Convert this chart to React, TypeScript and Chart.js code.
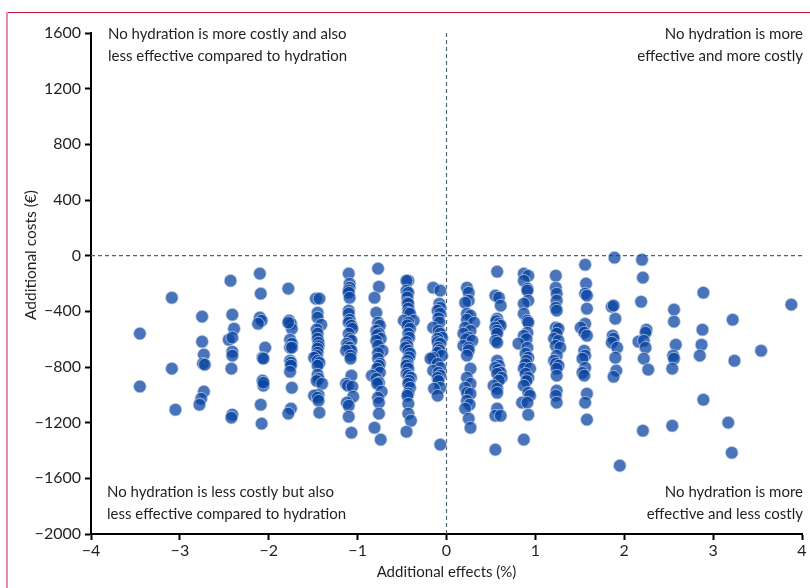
import React, { useEffect, useRef } from "react";
import { Chart, registerables } from "chart.js";

Chart.register(...registerables);

// Probabilistic sensitivity runs: [additional effect (%), additional cost (€)]
const runsA: number[][] = [[-3.45, -560], [-3.45, -940]];
const runsB: number[][] = [[-3.09, -302], [-3.09, -812], [-3.05, -1107]];
const runsC: number[][] = [[-2.75, -438], [-2.75, -618], [-2.73, -711], [-2.74, -776], [-2.72, -783], [-2.73, -977], [-2.76, -1028], [-2.78, -1071]];
const runsD: number[][] = [[-2.43, -180], [-2.41, -424], [-2.39, -525], [-2.45, -604], [-2.41, -589], [-2.41, -690], [-2.41, -718], [-2.42, -812], [-2.41, -1143], [-2.42, -1164]];
const runsE: number[][] = [[-2.10, -129], [-2.09, -273], [-2.10, -445], [-2.08, -467], [-2.12, -489], [-2.04, -661], [-2.07, -733], [-2.06, -740], [-2.07, -898], [-2.06, -934], [-2.06, -913], [-2.09, -1071], [-2.08, -1207]];
const runsF: number[][] = [[-1.78, -237], [-1.77, -467], [-1.75, -489], [-1.74, -525], [-1.78, -481], [-1.76, -604], [-1.74, -632], [-1.76, -661], [-1.74, -661], [-1.76, -755], [-1.75, -769], [-1.75, -790], [-1.76, -834], [-1.74, -949], [-1.75, -1099], [-1.78, -1135]];
const runsG: number[][] = [[-1.47, -309], [-1.43, -309], [-1.45, -410], [-1.45, -445], [-1.41, -496], [-1.46, -530], [-1.45, -560], [-1.45, -596], [-1.44, -625], [-1.44, -650], [-1.45, -668], [-1.45, -697], [-1.46, -720], [-1.49, -733], [-1.45, -755], [-1.43, -770], [-1.45, -790], [-1.45, -855], [-1.44, -884], [-1.46, -900], [-1.40, -920], [-1.44, -1000], [-1.49, -1006], [-1.45, -1020], [-1.44, -1042], [-1.43, -1128]];
const runsH: number[][] = [[-1.10, -129], [-1.09, -201], [-1.09, -230], [-1.10, -250], [-1.10, -266], [-1.09, -302], [-1.10, -395], [-1.10, -417], [-1.09, -460], [-1.10, -481], [-1.07, -503], [-1.06, -525], [-1.10, -560], [-1.09, -596], [-1.07, -611], [-1.12, -632], [-1.11, -650], [-1.09, -661], [-1.07, -683], [-1.13, -683], [-1.08, -718], [-1.08, -740], [-1.07, -862], [-1.13, -920], [-1.11, -934], [-1.06, -941], [-1.05, -1013], [-1.12, -1056], [-1.10, -1078], [-1.10, -1157], [-1.07, -1272]];
const runsI: number[][] = [[-0.77, -93], [-0.76, -223], [-0.81, -302], [-0.79, -410], [-0.77, -481], [-0.75, -503], [-0.79, -539], [-0.76, -560], [-0.78, -570], [-0.74, -596], [-0.79, -611], [-0.77, -647], [-0.72, -683], [-0.77, -700], [-0.77, -740], [-0.75, -776], [-0.76, -790], [-0.78, -812], [-0.75, -840], [-0.84, -862], [-0.79, -884], [-0.76, -913], [-0.78, -920], [-0.73, -977], [-0.77, -1020], [-0.76, -1056], [-0.76, -1135], [-0.81, -1236], [-0.74, -1322]];
const runsJ: number[][] = [[-0.43, -180], [-0.45, -180], [-0.45, -251], [-0.43, -266], [-0.44, -300], [-0.44, -338], [-0.43, -345], [-0.43, -380], [-0.43, -410], [-0.41, -417], [-0.48, -467], [-0.37, -467], [-0.43, -481], [-0.44, -500], [-0.41, -525], [-0.43, -560], [-0.42, -589], [-0.45, -620], [-0.44, -647], [-0.46, -661], [-0.43, -683], [-0.41, -704], [-0.42, -730], [-0.44, -755], [-0.44, -780], [-0.45, -790], [-0.43, -812], [-0.45, -848], [-0.43, -862], [-0.40, -877], [-0.42, -898], [-0.43, -920], [-0.41, -949], [-0.43, -990], [-0.44, -1006], [-0.43, -1064], [-0.43, -1135], [-0.40, -1186], [-0.45, -1265]];
const runsK: number[][] = [[-0.15, -230], [-0.07, -251], [-0.08, -345], [-0.07, -374], [-0.10, -395], [-0.07, -417], [-0.09, -450], [-0.08, -480], [-0.15, -517], [-0.09, -539], [-0.07, -560], [-0.05, -589], [-0.10, -596], [-0.10, -620], [-0.07, -632], [-0.09, -661], [-0.08, -680], [-0.10, -697], [-0.05, -718], [-0.15, -733], [-0.18, -740], [-0.10, -776], [-0.07, -805], [-0.15, -826], [-0.09, -841], [-0.07, -862], [-0.10, -877], [-0.09, -900], [-0.07, -949], [-0.14, -956], [-0.10, -1006], [-0.07, -1358]];
const runsL: number[][] = [[0.23, -230], [0.25, -266], [0.25, -323], [0.21, -338], [0.23, -417], [0.27, -431], [0.23, -460], [0.31, -481], [0.21, -517], [0.27, -539], [0.19, -560], [0.25, -589], [0.22, -600], [0.29, -611], [0.19, -647], [0.25, -661], [0.25, -680], [0.23, -718], [0.27, -812], [0.23, -877], [0.27, -920], [0.21, -949], [0.23, -985], [0.27, -992], [0.23, -1042], [0.26, -1070], [0.21, -1099], [0.25, -1171], [0.27, -1236]];
const runsM: number[][] = [[0.57, -115], [0.55, -287], [0.59, -302], [0.61, -359], [0.57, -453], [0.56, -470], [0.59, -489], [0.61, -503], [0.55, -517], [0.57, -539], [0.57, -560], [0.55, -611], [0.57, -625], [0.57, -755], [0.59, -790], [0.55, -805], [0.58, -820], [0.61, -841], [0.57, -848], [0.62, -877], [0.59, -898], [0.53, -934], [0.57, -956], [0.57, -985], [0.57, -1099], [0.55, -1150], [0.61, -1150], [0.55, -1394]];
const runsN: number[][] = [[0.87, -129], [0.92, -144], [0.87, -180], [0.91, -237], [0.91, -251], [0.92, -323], [0.87, -345], [0.87, -417], [0.91, -467], [0.92, -481], [0.91, -553], [0.87, -575], [0.90, -600], [0.81, -632], [0.91, -661], [0.89, -704], [0.92, -733], [0.90, -755], [0.89, -780], [0.87, -812], [0.94, -812], [0.89, -848], [0.92, -877], [0.90, -900], [0.87, -934], [0.92, -985], [0.94, -1006], [0.85, -1056], [0.91, -1056], [0.92, -1143], [0.87, -1322]];
const runsO: number[][] = [[1.23, -144], [1.23, -230], [1.24, -273], [1.24, -323], [1.23, -374], [1.24, -395], [1.23, -517], [1.26, -525], [1.24, -560], [1.21, -596], [1.26, -611], [1.23, -647], [1.28, -661], [1.24, -718], [1.21, -755], [1.23, -776], [1.26, -790], [1.24, -812], [1.24, -862], [1.24, -970], [1.23, -1006], [1.24, -1056]];
const runsP: number[][] = [[1.56, -65], [1.57, -201], [1.56, -273], [1.58, -287], [1.58, -381], [1.56, -489], [1.51, -517], [1.55, -553], [1.58, -575], [1.55, -683], [1.56, -718], [1.53, -740], [1.56, -805], [1.53, -841], [1.55, -862], [1.58, -992], [1.56, -1056], [1.58, -1178]];
const runsQ: number[][] = [[1.89, -14], [1.86, -367], [1.88, -359], [1.90, -453], [1.87, -575], [1.88, -596], [1.86, -625], [1.92, -661], [1.90, -733], [1.91, -826], [1.88, -870], [1.95, -1509]];
const runsR: number[][] = [[2.20, -29], [2.21, -158], [2.19, -331], [2.25, -532], [2.24, -553], [2.16, -618], [2.22, -611], [2.24, -661], [2.22, -740], [2.27, -819], [2.21, -1258]];
const runsS: number[][] = [[2.56, -388], [2.56, -474], [2.58, -640], [2.55, -718], [2.56, -740], [2.54, -812], [2.54, -1222]];
const runsT: number[][] = [[2.89, -266], [2.88, -532], [2.87, -640], [2.85, -718], [2.89, -1035]];
const runsU: number[][] = [[3.22, -460], [3.24, -755], [3.17, -1200], [3.21, -1416]];
const runsV: number[][] = [[3.54, -683]];
const runsW: number[][] = [[3.88, -352]];

const xTicks = [-4, -3, -2, -1, 0, 1, 2, 3, 4];
const yTicks = [-2000, -1600, -1200, -800, -400, 0, 400, 800, 1200, 1600];

const quadrantTopLeft = ["No hydration is more costly and also", "less effective compared to hydration"];
const quadrantTopRight = ["No hydration is more", "effective and more costly"];
const quadrantBottomLeft = ["No hydration is less costly but also", "less effective compared to hydration"];
const quadrantBottomRight = ["No hydration is more", "effective and less costly"];
const xTitle = "Additional effects (%)";
const yTitle = "Additional costs (€)";

const FONT = "Lato, 'Open Sans', sans-serif";
const TEXT = "#231f20";

const fmt = (v: number) => (v < 0 ? "\u2212" + Math.abs(v) : String(v));

export default function App() {
  const ref = useRef<HTMLCanvasElement | null>(null);

  useEffect(() => {
    if (!ref.current) return;
    const all = [
      runsA, runsB, runsC, runsD, runsE, runsF, runsG, runsH, runsI, runsJ, runsK, runsL,
      runsM, runsN, runsO, runsP, runsQ, runsR, runsS, runsT, runsU, runsV, runsW,
    ].flat();
    const data = all.map(([x, y]) => ({ x, y }));

    const refLines = {
      id: "refLines",
      beforeDatasetsDraw(chart: any) {
        const { ctx, chartArea, scales } = chart;
        const x0 = scales.x.getPixelForValue(0);
        const y0 = scales.y.getPixelForValue(0);
        ctx.save();
        ctx.strokeStyle = "#4d6473";
        ctx.lineWidth = 1.2;
        ctx.setLineDash([4, 3]);
        ctx.beginPath();
        ctx.moveTo(chartArea.left, y0);
        ctx.lineTo(chartArea.right, y0);
        ctx.moveTo(x0, chartArea.top);
        ctx.lineTo(x0, chartArea.bottom);
        ctx.stroke();
        ctx.restore();
      },
    };

    const labels = {
      id: "labels",
      afterDraw(chart: any) {
        const { ctx, chartArea } = chart;
        ctx.save();
        ctx.fillStyle = TEXT;
        ctx.font = `15px ${FONT}`;
        ctx.textBaseline = "middle";
        const lh = 22;
        const L = chartArea.left + 17;
        const R = chartArea.right + 1;
        ctx.textAlign = "left";
        quadrantTopLeft.forEach((t, i) => ctx.fillText(t, L, 34 + i * lh));
        quadrantBottomLeft.forEach((t, i) => ctx.fillText(t, L - 1, 492 + i * lh));
        ctx.textAlign = "right";
        quadrantTopRight.forEach((t, i) => ctx.fillText(t, R, 34 + i * lh));
        quadrantBottomRight.forEach((t, i) => ctx.fillText(t, R, 492 + i * lh));
        // axis titles
        ctx.textAlign = "center";
        ctx.fillText(xTitle, (chartArea.left + chartArea.right) / 2, 572);
        ctx.font = `15.5px ${FONT}`;
        ctx.translate(31, 255);
        ctx.rotate(-Math.PI / 2);
        ctx.fillText(yTitle, 0, 0);
        ctx.restore();
      },
    };

    const chart = new Chart(ref.current, {
      type: "scatter",
      data: {
        datasets: [
          {
            data,
            pointRadius: 6.3,
            pointHoverRadius: 6.3,
            backgroundColor: "rgba(10,68,160,0.74)",
            borderColor: "rgba(190,205,230,0.75)",
            borderWidth: 1,
          },
        ],
      },
      options: {
        responsive: false,
        animation: false,
        devicePixelRatio: 1,
        events: [],
        layout: { padding: { left: 0, right: 8, top: 33, bottom: 0 } },
        plugins: { legend: { display: false }, tooltip: { enabled: false } },
        scales: {
          x: {
            type: "linear",
            min: -4,
            max: 4,
            afterFit: (s: any) => {
              s.height = 54;
            },
            afterBuildTicks: (s: any) => {
              s.ticks = xTicks.map((v) => ({ value: v }));
            },
            ticks: {
              color: TEXT,
              font: { family: FONT, size: 16 },
              padding: 1,
              maxRotation: 0,
              callback: (v: any) => fmt(Number(v)),
            },
            grid: {
              display: true,
              drawOnChartArea: false,
              drawTicks: true,
              tickLength: 6,
              tickWidth: 2,
              tickColor: "#000",
            },
            border: { display: true, color: "#000", width: 2 },
          },
          y: {
            type: "linear",
            min: -2000,
            max: 1600,
            afterFit: (s: any) => {
              s.width = 91;
            },
            afterBuildTicks: (s: any) => {
              s.ticks = yTicks.map((v) => ({ value: v }));
            },
            ticks: {
              color: TEXT,
              font: { family: FONT, size: 16 },
              padding: 4,
              callback: (v: any) => fmt(Number(v)),
            },
            grid: {
              display: true,
              drawOnChartArea: false,
              drawTicks: true,
              tickLength: 6,
              tickWidth: 2,
              tickColor: "#000",
            },
            border: { display: true, color: "#000", width: 2 },
          },
        },
      },
      plugins: [refLines, labels],
    } as any);

    return () => chart.destroy();
  }, []);

  return (
    <div style={{ position: "fixed", left: 0, top: 0, width: 810, height: 588, background: "#fff", overflow: "hidden" }}>
      <div style={{ position: "absolute", left: 7, right: 0, top: 12, height: 1, background: "#c4103e" }} />
      <div style={{ position: "absolute", left: 6, width: 2, top: 12, bottom: 0, background: "#e390aa" }} />
      <canvas ref={ref} width={810} height={588} style={{ position: "absolute", left: 0, top: 0, width: 810, height: 588 }} />
    </div>
  );
}
